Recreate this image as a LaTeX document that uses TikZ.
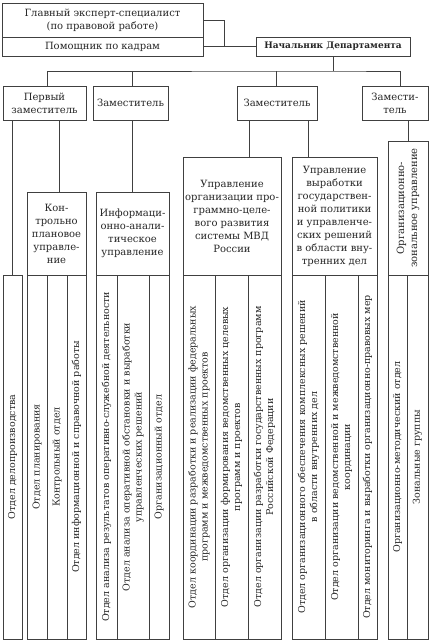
\documentclass[tikz,border=0pt]{standalone}
\usepackage{fontspec}
\setmainfont{DejaVu Serif}
\usetikzlibrary{positioning}

\begin{document}
\begin{tikzpicture}[x=1pt, y=-1pt,
  obox/.style={rectangle, draw=black!75, line width=0.6pt, inner sep=1pt,
               align=center, font=\fontsize{10}{13}\selectfont, text=black!85},
  col/.style={rectangle, draw=black!75, line width=0.6pt, rotate=90,
              minimum width=364, inner sep=0pt, align=center,
              font=\fontsize{9.5}{12}\selectfont, text=black!85},
  link/.style={draw=black!75, line width=0.6pt}
]
\useasboundingbox (0,0) rectangle (430,643);

% Top level
\node[obox, minimum width=201, minimum height=34] (gl)   at (102.5,20)   {Главный эксперт-специалист\\(по правовой работе)};
\node[obox, minimum width=201, minimum height=19] (pk)   at (102.5,46.5) {Помощник по кадрам};
\node[obox, minimum width=154, minimum height=19,
      font=\fontsize{9}{13}\selectfont\bfseries]  (nach) at (333,46.5)   {Начальник Департамента};

% Deputies
\node[obox, minimum width=83, minimum height=34] (zam1) at (44.5,103)  {Первый\\заместитель};
\node[obox, minimum width=75, minimum height=34] (zam2) at (130.5,103) {Заместитель};
\node[obox, minimum width=80, minimum height=34] (zam3) at (277,103)   {Заместитель};
\node[obox, minimum width=66, minimum height=34] (zam4) at (395,103)   {Замести-\\тель};

% Directorates
\node[obox, minimum width=59, minimum height=83]  (upr1) at (56.5,233.5)  {Кон-\\трольно\\плановое\\управле-\\ние};
\node[obox, minimum width=73, minimum height=83]  (upr2) at (132.5,233.5) {Информаци-\\онно-анали-\\тическое\\управление};
\node[obox, minimum width=98, minimum height=118] (upr3) at (232,216)     {Управление\\организации про-\\граммно-целе-\\вого развития\\системы МВД\\России};
\node[obox, minimum width=85, minimum height=118] (upr4) at (334.5,216)   {Управление\\выработки\\государствен-\\ной политики\\и управленче-\\ских решений\\в области вну-\\тренних дел};
\node[obox, minimum width=134, minimum height=40, rotate=90] (upr5) at (408,208) {Организационно-\\зональное управление};

% Departments
\node[col, minimum height=19] (otd0)  at (12.5,457)  {Отдел делопроизводства};
\node[col, minimum height=20] (otd11) at (37,457)    {Отдел планирования};
\node[col, minimum height=20] (otd12) at (57,457)    {Контрольный отдел};
\node[col, minimum height=19] (otd13) at (76.5,457)  {Отдел информационной и справочной работы};
\node[col, minimum height=21] (otd21) at (106.5,457) {Отдел анализа результатов оперативно-служебной деятельности};
\node[col, minimum height=32] (otd22) at (133,457)   {Отдел анализа оперативной обстановки и выработки\\управленческих решений};
\node[col, minimum height=20] (otd23) at (159,457)   {Организационный отдел};
\node[col, minimum height=32] (otd31) at (199,457)   {Отдел координации разработки и реализации федеральных\\программ и межведомственных проектов};
\node[col, minimum height=33] (otd32) at (231.5,457) {Отдел организации формирования ведомственных целевых\\программ и проектов};
\node[col, minimum height=33] (otd33) at (264.5,457) {Отдел организации разработки государственных программ\\Российской Федерации};
\node[col, minimum height=33] (otd41) at (308.5,457) {Отдел организационного обеспечения комплексных решений\\в области внутренних дел};
\node[col, minimum height=33] (otd42) at (341.5,457) {Отдел организации ведомственной и межведомственной\\координации};
\node[col, minimum height=19] (otd43) at (367.5,457) {Отдел мониторинга и выработки организационно-правовых мер};
\node[col, minimum height=19] (otd51) at (397.5,457) {Организационно-методический отдел};
\node[col, minimum height=21] (otd52) at (417.5,457) {Зональные группы};

% Links
\coordinate (jn)  at (224,46.5);
\coordinate (bus) at (333,71);
\draw[link] (gl.east) -| (jn);
\draw[link] (pk.east) -- (nach.west);
\draw[link] (nach.south) -- (bus);
\draw[link] ([xshift=2.5]zam1.north) |- (bus) -| ([xshift=5]zam4.north);
\draw[link] ([xshift=1.5]zam2.north) -- ([xshift=1.5]zam2.north |- bus);
\draw[link] ([xshift=-1]zam3.north) -- ([xshift=-1]zam3.north |- bus);
\draw[link] (otd0.east) -- (otd0.east |- zam1.south);
\draw[link] ([xshift=2.5]upr1.north) -- ([xshift=2.5]upr1.north |- zam1.south);
\draw[link] (upr2.north) -- (upr2.north |- zam2.south);
\draw[link] ([xshift=17]upr3.north) -- ([xshift=17]upr3.north |- zam3.south);
\draw[link] ([xshift=-26.5]upr4.north) -- ([xshift=-26.5]upr4.north |- zam3.south);
\draw[link] (upr5.east) -- (upr5.east |- zam4.south);
\end{tikzpicture}
\end{document}
